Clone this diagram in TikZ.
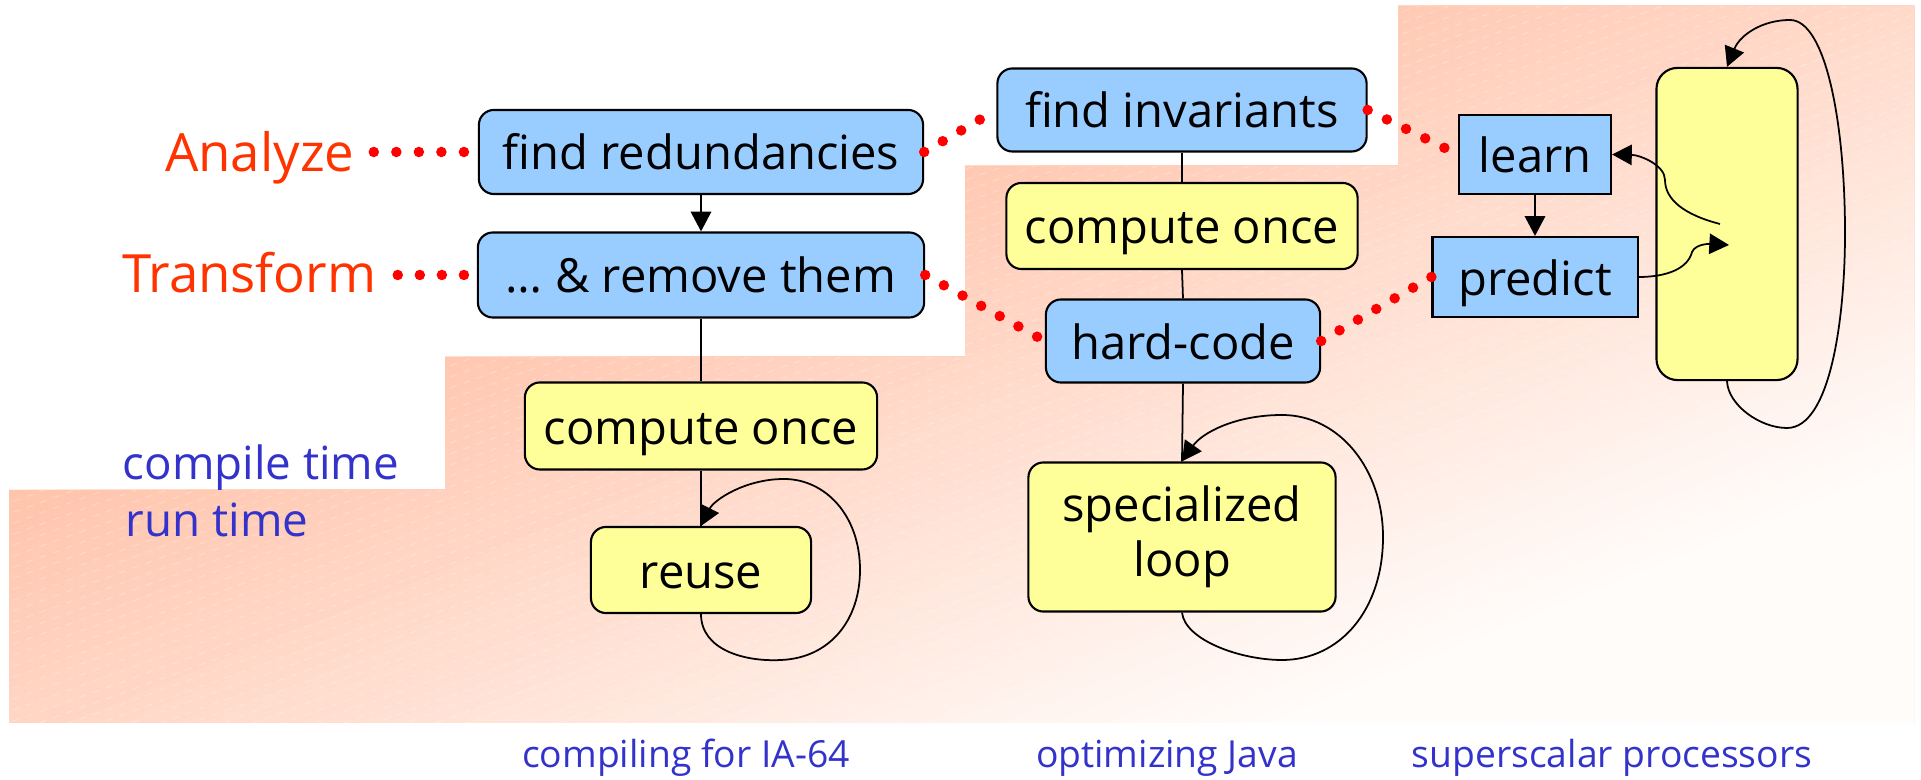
\documentclass[tikz,border=0pt]{standalone}
\usepackage{fontspec}
\setmainfont{Open Sans}
\usetikzlibrary{arrows.meta,calc}
\definecolor{bgA}{RGB}{255,196,172}
\definecolor{bgB}{RGB}{255,252,250}
\definecolor{boxblue}{RGB}{153,204,255}
\definecolor{boxyellow}{RGB}{255,255,153}
\definecolor{labred}{RGB}{255,51,0}
\definecolor{dotred}{RGB}{255,0,0}
\definecolor{labblue}{RGB}{51,51,204}
\begin{document}
\begin{tikzpicture}[x=0.01cm,y=-0.01cm,
  boxtext/.style={font=\fontsize{13.4}{15.7}\selectfont, text=black, align=center},
  onel/.style={text height=0.46cm, text depth=0.10cm},
  boxbase/.style={boxtext, draw=black, line width=0.6pt, inner sep=0pt},
  bluebox/.style={boxbase, fill=boxblue, rounded corners=0.15cm},
  yellowbox/.style={boxbase, fill=boxyellow, rounded corners=0.15cm},
  sqbox/.style={boxbase, fill=boxblue},
  conn/.style={draw=black, line width=0.5pt},
  arr/.style={conn, -{Triangle[length=5.6pt,width=5.8pt]}},
  reddot/.style={circle, fill=dotred, inner sep=0pt, minimum size=0.105cm},
  redlab/.style={text=labred, font=\fontsize{15}{18}\selectfont, inner sep=0pt},
  bluelab/.style={text=labblue, font=\fontsize{13}{15}\selectfont, inner sep=0pt},
  botlab/.style={text=labblue, font=\fontsize{10.6}{12}\selectfont, inner sep=0pt},
  hatch/.style={white, opacity=0.25, line width=0.3pt, dash pattern=on 2pt off 2pt}
]
\useasboundingbox (0,0) rectangle (1921,780);
% stepped background
\begin{scope}
  \clip (9,723) -- (9,490) -- (445,490) -- (445,357) -- (965,357) -- (965,166)
        -- (1398,166) -- (1398,6) -- (1914,6) -- (1914,723) -- cycle;
  \fill[bgA] (0,0) rectangle (1921,780);
  \foreach \i in {0,...,69} {
    \pgfmathsetmacro{\s}{455+10*\i}
    \pgfmathtruncatemacro{\p}{100-round(100*\i/69)}
    \fill[bgA!\p!bgB] ({0.375*\s-370.8},{0.927*\s+150}) -- ({0.375*\s+1761.3},{0.927*\s-712.5})
      -- (2511.3,1141.5) -- (379.2,2004) -- cycle;
  }
  \foreach \k in {0,...,135} {
    \draw[hatch] (0,{11*\k}) -- (1921,{11*\k-692});
  }
\end{scope}

% left column
\node[bluebox,onel,minimum width=4.44cm,minimum height=0.84cm] (redund) at (701,152) {find redundancies};
\node[bluebox,onel,minimum width=4.46cm,minimum height=0.85cm] (remove) at (701,275) {… \& remove them};
\node[yellowbox,onel,minimum width=3.52cm,minimum height=0.87cm] (compL) at (701,426) {compute once};
\node[yellowbox,onel,minimum width=2.20cm,minimum height=0.86cm] (reuse) at (701,570) {reuse};

% middle column
\node[bluebox,onel,minimum width=3.69cm,minimum height=0.83cm] (invar) at (1182,110) {find invariants};
\node[yellowbox,onel,minimum width=3.51cm,minimum height=0.86cm] (compM) at (1182,226) {compute once};
\node[bluebox,onel,minimum width=2.74cm,minimum height=0.83cm] (hard) at (1183,341) {hard-code};
\node[yellowbox,minimum width=3.07cm,minimum height=1.49cm] (spec) at (1182,537) {specialized\\loop};

% right column
\node[sqbox,onel,minimum width=1.52cm,minimum height=0.79cm] (learn) at (1535,154.5) {learn};
\node[sqbox,onel,minimum width=2.05cm,minimum height=0.80cm] (predict) at (1535,277) {predict};
\node[draw=black,line width=0.6pt,fill=boxyellow,rounded corners=0.21cm,inner sep=0pt,
      minimum width=1.41cm,minimum height=3.12cm] (tall) at (1727,224) {};
\coordinate (lstart) at (1720,224);
\coordinate (pend) at (1729,245);

% labels
\node[redlab,anchor=base east] (analyze) at (355,172) {Analyze};
\node[redlab,anchor=base east] (transform) at (377,293) {Transform};
\node[bluelab,anchor=base west] (ctime) at (122,480) {compile time};
\node[bluelab,anchor=base west] (rtime) at (125,537) {run time};
\node[botlab,anchor=base] (b1) at (686,768) {compiling for IA-64};
\node[botlab,anchor=base] (b2) at (1167,768) {optimizing Java};
\node[botlab,anchor=base] (b3) at (1612,768) {superscalar processors};

% connectors left
\draw[arr] (redund.south) -- (remove.north);
\draw[conn] (remove.south) -- (compL.north);
\draw[conn] (compL.south) -- (reuse.north);
\draw[arr] (reuse.south) .. controls (701,650) and (745,662) .. (781,660)
  .. controls (830,658) and (860,620) .. (860,570)
  .. controls (860,515) and (825,479) .. (784,479)
  .. controls (745,479) and (714,500) .. (reuse.north);

% connectors middle
\draw[conn] (invar.south) -- (compM.north);
\draw[conn] (compM.south) -- (hard.north);
\draw[conn] (hard.south) -- (spec.north);
\draw[arr] (spec.south) .. controls (1185,640) and (1240,660) .. (1282,660)
  .. controls (1340,660) and (1383,610) .. (1383,537)
  .. controls (1383,470) and (1340,415) .. (1282,415)
  .. controls (1235,415) and (1202,433) .. (spec.north);

% connectors right
\draw[arr] (learn.south) -- (predict.north);
\draw[arr] (tall.south) .. controls (1728,405) and (1760,428) .. (1787,428)
  .. controls (1830,428) and (1845,320) .. (1845,233)
  .. controls (1845,120) and (1825,20) .. (1790,20)
  .. controls (1762,20) and (1740,35) .. (tall.north);
\draw[arr] (lstart) .. controls (1685,215) and (1665,200) .. (1665,180)
  .. controls (1665,165) and (1640,155) .. (learn.east);
\draw[arr] (predict.east) .. controls (1668,277) and (1688,268) .. (1692,252)
  .. controls (1696,243) and (1712,244) .. (pend);

% red dotted links
\path (analyze.east |- redund.west) -- (redund.west)
  foreach \q in {0.153,0.3365,0.52,0.7035,0.887} {node[reddot,pos=\q]{}};
\path (transform.east |- remove.west) -- (remove.west)
  foreach \q in {0.208,0.429,0.650,0.871} {node[reddot,pos=\q]{}};
\path (redund.east) -- (invar.west)
  foreach \q in {0,0.257,0.513,0.77} {node[reddot,pos=\q]{}};
\path (invar.east) -- (learn.west)
  foreach \q in {0,0.2125,0.425,0.6375,0.85} {node[reddot,pos=\q]{}};
\path (remove.east) -- (hard.west)
  foreach \q in {0,0.156,0.312,0.468,0.623,0.779,0.935} {node[reddot,pos=\q]{}};
\path (hard.east) -- (predict.west)
  foreach \q in {0,0.1667,0.3333,0.5,0.6667,0.8333,1} {node[reddot,pos=\q]{}};
\end{tikzpicture}
\end{document}
